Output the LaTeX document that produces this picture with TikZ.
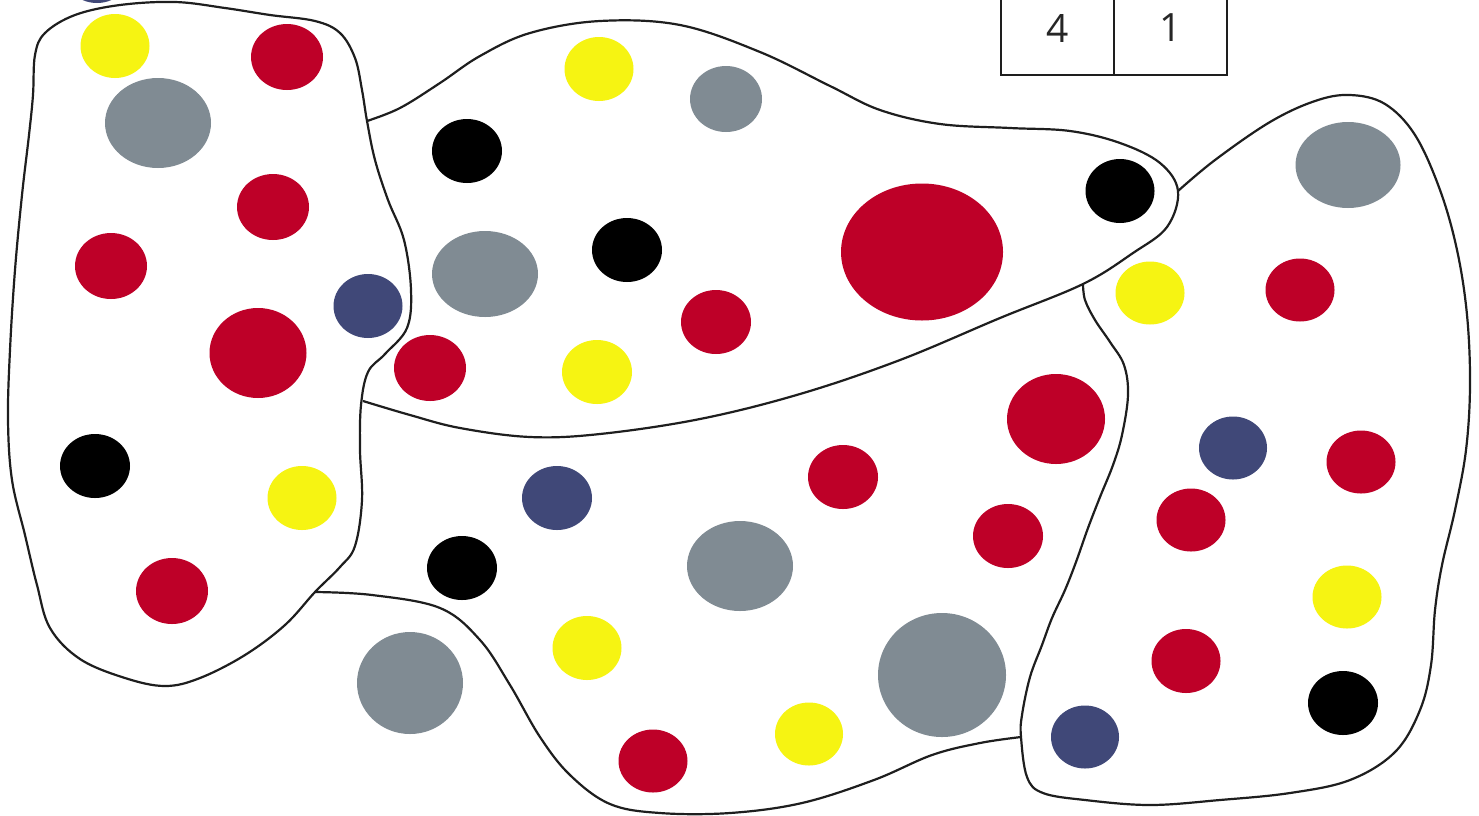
\documentclass[tikz,border=0pt]{standalone}
\usepackage{fontspec}
\newfontfamily\cellfont{Open Sans}
\usetikzlibrary{positioning}
\definecolor{spotred}{HTML}{BE0028}
\definecolor{spotyellow}{HTML}{F6F412}
\definecolor{spotgrey}{HTML}{808B93}
\definecolor{spotnavy}{HTML}{404878}
\definecolor{bordergrey}{HTML}{1E1E1E}
\definecolor{celltext}{HTML}{262626}

\begin{document}
\begin{tikzpicture}[x=1pt, y=-1pt,
      border/.style={line width=2.2pt, draw=bordergrey, line join=round},
      reddot/.style={fill=spotred},
      yellowdot/.style={fill=spotyellow},
      greydot/.style={fill=spotgrey},
      navydot/.style={fill=spotnavy},
      blackdot/.style={fill=black},
      cell/.style={rectangle, draw=bordergrey, line width=2.2pt, minimum width=113pt, minimum height=94pt, inner sep=0pt, text=celltext, font=\cellfont\fontsize{39}{40}\selectfont},
    ]
    \clip (0,0) rectangle (1479,815);
    \fill[white] (0,0) rectangle (1479,815);

    % junctions of the region borders
    \coordinate (jab) at (367,121);
    \coordinate (jabl) at (363,401);
    \coordinate (jac) at (315,592);
    \coordinate (jbd) at (1178,191);
    \coordinate (jbcd) at (1083,284);
    \coordinate (jcd) at (1021,737);

    % left region
    \draw[border] plot[smooth cycle, tension=0.6] coordinates {(35,55) (45,33) (75,15) (120,5) (175,2) (225,8) (270,15) (315,21) (340,33) (355,58) (362,90) (jab) (375,160) (388,200) (404,240) (411,290) (407,328) (385,354) (368,372) (361,405) (360,450) (362,500) (355,546) (340,567) (jac) (285,625) (245,655) (200,678) (165,686) (125,678) (80,659) (50,628) (37,585) (25,535) (12,480) (8,420) (10,350) (15,270) (22,195) (29,135) (33,95)};
    % upper middle region
    \draw[border] plot[smooth, tension=0.6] coordinates {(jab) (400,108) (440,83) (480,56) (530,33) (600,21) (680,25) (760,52) (830,86) (880,110) (940,124) (1010,128) (1070,131) (1120,143) (1160,163) (jbd) (1167,227) (1133,253) (jbcd) (1000,318) (900,360) (800,394) (700,419) (600,434) (530,437) (460,428) (410,415) (jabl)};
    % right region
    \draw[border] plot[smooth, tension=0.6] coordinates {(jbd) (1215,160) (1270,122) (1315,101) (1350,95) (1385,104) (1415,135) (1440,190) (1457,250) (1467,315) (1470,385) (1466,450) (1455,510) (1442,565) (1435,610) (1431,665) (1420,710) (1395,752) (1350,780) (1290,793) (1220,800) (1150,805) (1085,800) (1043,793) (1027,777) (jcd) (1022,715) (1030,677) (1042,645) (1052,618) (1065,590) (1076,562) (1088,528) (1100,497) (1113,465) (1122,435) (1128,395) (1124,365) (1110,342) (1095,320) (1085,300) (jbcd)};
    % lower middle region
    \draw[border] plot[smooth, tension=0.6] coordinates {(jac) (372,595) (440,608) (480,640) (510,685) (540,737) (570,775) (610,804) (660,813) (730,813) (802,803) (874,780) (932,755) (980,743) (jcd)};

    % spots, left region
    \fill[navydot] (97,-29) ellipse [x radius=34pt, y radius=32pt];
    \fill[yellowdot] (115,46) ellipse [x radius=34.5pt, y radius=32pt];
    \fill[reddot] (287,57) ellipse [x radius=36pt, y radius=33pt];
    \fill[greydot] (158,123) ellipse [x radius=53pt, y radius=45pt];
    \fill[reddot] (273,207) ellipse [x radius=36pt, y radius=33pt];
    \fill[reddot] (111,266) ellipse [x radius=36pt, y radius=33pt];
    \fill[reddot] (258,353) ellipse [x radius=48.5pt, y radius=45pt];
    \fill[navydot] (368,306) ellipse [x radius=34.5pt, y radius=32pt];
    \fill[blackdot] (95,466) ellipse [x radius=35pt, y radius=32pt];
    \fill[yellowdot] (302,498) ellipse [x radius=34.5pt, y radius=32pt];
    \fill[reddot] (172,591) ellipse [x radius=36pt, y radius=33pt];

    % spots, upper middle region
    \fill[yellowdot] (599,69) ellipse [x radius=34.5pt, y radius=32pt];
    \fill[greydot] (726,99) ellipse [x radius=36pt, y radius=33pt];
    \fill[blackdot] (467,151) ellipse [x radius=35pt, y radius=32pt];
    \fill[reddot] (922,252) ellipse [x radius=81pt, y radius=68.5pt];
    \fill[blackdot] (1120,191) ellipse [x radius=34.5pt, y radius=32pt];
    \fill[greydot] (485,274) ellipse [x radius=53pt, y radius=43pt];
    \fill[blackdot] (627,250) ellipse [x radius=35pt, y radius=32pt];
    \fill[reddot] (716,322) ellipse [x radius=35pt, y radius=32pt];
    \fill[reddot] (430,368) ellipse [x radius=36pt, y radius=33pt];
    \fill[yellowdot] (597,372) ellipse [x radius=35pt, y radius=32pt];

    % spots, lower middle region
    \fill[navydot] (557,498) ellipse [x radius=35pt, y radius=32pt];
    \fill[blackdot] (462,568) ellipse [x radius=35pt, y radius=32pt];
    \fill[greydot] (740,566) ellipse [x radius=53pt, y radius=45pt];
    \fill[reddot] (843,477) ellipse [x radius=35pt, y radius=32pt];
    \fill[reddot] (1056,419) ellipse [x radius=49pt, y radius=45pt];
    \fill[reddot] (1008,536) ellipse [x radius=35pt, y radius=32pt];
    \fill[greydot] (410,683) ellipse [x radius=53pt, y radius=51pt];
    \fill[yellowdot] (587,648) ellipse [x radius=34.5pt, y radius=32pt];
    \fill[reddot] (653,761) ellipse [x radius=34.5pt, y radius=31.5pt];
    \fill[yellowdot] (809,734) ellipse [x radius=34pt, y radius=31.5pt];
    \fill[greydot] (942,675) ellipse [x radius=64pt, y radius=62pt];

    % spots, right region
    \fill[yellowdot] (1150,293) ellipse [x radius=34.5pt, y radius=31.5pt];
    \fill[greydot] (1348,165) ellipse [x radius=52.5pt, y radius=43pt];
    \fill[reddot] (1300,290) ellipse [x radius=34.5pt, y radius=31.5pt];
    \fill[navydot] (1233,448) ellipse [x radius=34pt, y radius=31.5pt];
    \fill[reddot] (1361,462) ellipse [x radius=34.5pt, y radius=31.5pt];
    \fill[reddot] (1191,520) ellipse [x radius=34.5pt, y radius=31.5pt];
    \fill[yellowdot] (1347,597) ellipse [x radius=34.5pt, y radius=31.5pt];
    \fill[reddot] (1186,661) ellipse [x radius=34.5pt, y radius=32pt];
    \fill[blackdot] (1343,703) ellipse [x radius=35pt, y radius=32pt];
    \fill[navydot] (1085,737) ellipse [x radius=34pt, y radius=31.5pt];

    % counter cells
    \node[cell] (cellfour) at (1057.5,28) {4};
    \node[cell] (cellone) at (1170.5,28) {1};
  \end{tikzpicture}
\end{document}
